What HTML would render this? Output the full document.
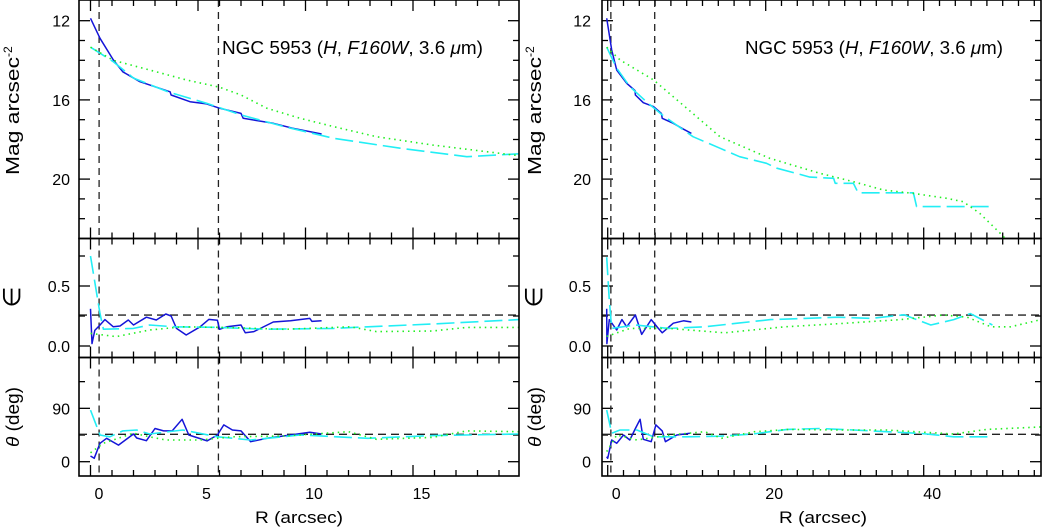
<!DOCTYPE html>
<html><head><meta charset="utf-8"><style>
html,body{margin:0;padding:0;background:#fff;}
svg{display:block;font-family:"Liberation Sans","DejaVu Sans",sans-serif;}
</style></head><body>
<svg id="c" width="1043" height="527" viewBox="0 0 1043 527" xmlns="http://www.w3.org/2000/svg"></svg>
<script>
// ---------- DATA: left panels (R up to ~20 arcsec) ----------
const L_magBlueR = [0,0.44,1.06,1.5,2.3,3.7,3.75,4.63,5.4,6.0,7.0,7.1,8.5,9.4,10.75];
const L_magBlue  = [11.88,12.89,13.98,14.58,15.08,15.59,15.75,16.09,16.2,16.42,16.68,16.93,17.18,17.43,17.72];
const L_magCyanR = [0,1.06,2.0,3.6,5.4,7.0,9.0,11.3,14.4,17.5,19.93];
const L_magCyan  = [13.34,14.07,14.9,15.59,16.17,16.76,17.35,17.94,18.44,18.87,18.72];
const L_magGreenR= [0,1.06,2.75,4.45,6.0,7.0,8.2,9.75,11.3,13.3,15.9,19.93];
const L_magGreen = [13.34,14.0,14.49,14.99,15.36,15.75,16.42,16.93,17.35,17.86,18.28,18.82];

const L_epsBlueR = [0,0.07,0.2,0.44,0.67,1.06,1.37,1.76,2.0,2.6,3.06,3.5,3.75,4.0,4.45,5.1,5.5,5.9,6.0,6.35,7.0,7.2,7.6,8.5,9.3,10.2,10.3,10.75];
const L_epsBlue  = [0.31,0.02,0.13,0.175,0.22,0.16,0.167,0.217,0.175,0.24,0.217,0.267,0.25,0.147,0.092,0.16,0.222,0.215,0.139,0.16,0.175,0.11,0.12,0.2,0.21,0.23,0.205,0.21];
const L_epsCyanR = [0,0.44,0.6,2.0,2.75,3.9,5.9,8.2,11.3,12.9,15.9,19.93];
const L_epsCyan  = [0.75,0.27,0.14,0.147,0.175,0.16,0.155,0.14,0.147,0.16,0.183,0.22];
const L_epsGreenR= [0,1.2,2.75,4.3,6.6,9.0,12.1,13.3,15.9,17.5,19.93];
const L_epsGreen = [0.105,0.078,0.133,0.16,0.153,0.139,0.16,0.12,0.125,0.155,0.155];

const L_paBlueR = [0,0.17,0.44,0.75,1.3,2.0,2.15,2.6,3.0,3.4,3.8,4.26,4.57,5.43,5.9,6.2,6.6,7.0,7.45,8.2,9.3,10.2,10.75];
const L_paBlue  = [9.6,5.7,31,39.5,28,46.7,40,35.4,56,52,52,71.5,45,35,45,62,53.5,52,33.7,39.5,45,49.5,46.7];
const L_paCyanR = [0,0.44,0.9,1.5,2.15,2.75,4.3,5.9,7.45,9.75,12.9,15.9,19.93];
const L_paCyan  = [87,45,42,52,53.5,46.7,53.5,42,36.6,45,39.5,44,46.7];
const L_paGreenR= [0,0.6,2.0,2.75,3.5,5.1,6.6,9.0,12.0,13.3,15.9,17.5,19.93];
const L_paGreen = [15,31,48,42,36.6,36.6,42,43.3,50.6,37.8,41,52,50.6];

// ---------- DATA: right panels (R up to ~55 arcsec) ----------
const R_magBlueR = [-0.13,0.5,1.14,2.4,3.46,3.5,4.5,5.8,6.8,6.9,8.3,9.6,10.6];
const R_magBlue  = [11.88,13.48,14.49,15.16,15.53,15.75,16.14,16.34,16.68,16.93,17.18,17.48,17.69];
const R_magCyanR = [-0.13,1.14,2.8,4.9,6.9,10.8,14.2,16.7,20.1,21.4,23.5,25.6,28.6,28.8,31.1,31.7,38.7,39.1,48.8];
const R_magCyan  = [13.34,14.4,15.33,16.09,16.76,17.86,18.44,18.87,19.2,19.45,19.67,19.9,19.96,20.21,20.21,20.69,20.69,21.39,21.39];
const R_magGreenR= [-0.13,1.56,5.8,10,14.2,20.5,26.9,31.1,34.9,38.7,42.9,45,47.1,49.9,51];
const R_magGreen = [13.34,13.98,14.99,16.42,17.86,18.95,19.71,20.13,20.55,20.72,20.97,21.14,21.73,22.82,23.3];

const R_epsBlueR = [-0.13,-0.1,0.2,1.14,1.8,2.4,3.5,4.3,5.5,6.3,6.9,8.3,9.6,10.6];
const R_epsBlue  = [0.31,0.02,0.22,0.133,0.22,0.16,0.258,0.097,0.22,0.155,0.11,0.19,0.21,0.2];
const R_epsCyanR = [-0.13,0.2,0.5,3.5,7.7,12.3,16.4,20.6,24.9,29.1,33.3,37.5,40.9,43.8,45.9,48.7];
const R_epsCyan  = [0.74,0.38,0.147,0.175,0.147,0.16,0.19,0.22,0.23,0.24,0.23,0.26,0.175,0.22,0.27,0.175];
const R_epsGreenR= [-0.13,2.8,7.7,14.8,22.4,28.6,37.1,42.5,45.5,48.5,51,55.5];
const R_epsGreen = [0.08,0.147,0.147,0.11,0.16,0.183,0.22,0.258,0.24,0.16,0.16,0.23];

const R_paBlueR = [-0.13,0,0.5,1.14,2,2.8,3.5,4.1,4.5,5.5,6.1,6.9,7.3,8.75,10.4];
const R_paBlue  = [8.4,5.7,36.6,31,45,36.6,56,71.5,37.8,33.7,62,52,33.7,45,48];
const R_paCyanR = [-0.13,0.5,1.56,3.7,5.8,10,14.2,18.4,22.7,26.9,31.1,35.3,39.6,43.8,48.7];
const R_paCyan  = [87,48,53.5,53.5,42,42,43,46.7,54.5,56,53.5,50.6,47.8,42,42];
const R_paGreenR= [-0.13,1.14,3.7,7.9,12.3,14.4,18.6,22.9,29.1,35.3,43.8,48,55.5];
const R_paGreen = [17,45,36.6,45,50.6,39.5,50.6,54.5,53.5,53.5,46.7,54.5,59];

const magTicks=[12,16,20], epsTicks=[0,0.5], paTicks=[0,90];
const L_xTicks=[0,5,10,15], R_xTicks=[0,20,40];
const vLines=[0.4,5.95], epsRef=0.258, paRef=46.2;

// ---------- DRAWING ----------
const svg=document.getElementById('c');
const NS='http://www.w3.org/2000/svg';
function el(tag,attrs,parent){const e=document.createElementNS(NS,tag);for(const k in attrs)e.setAttribute(k,attrs[k]);(parent||svg).appendChild(e);return e;}

const top0=0, y1=238.5, y2=357.5, bot=476;
function panelSet(side,x0,x1,xr0,pxPerUnit,minorStep,majorStep,xTicks,labX,tickLabRight,data){
  const g=el('g',{});
  
  
  const X=v=>xr0+pxPerUnit*v;
  const vmin=(x0-xr0)/pxPerUnit, vmax=(x1-xr0)/pxPerUnit;
  const panels=[
    {name:'magnitude',ya:top0,yb:y1,Y:m=>20.7+(m-12)*19.8,lo:11,hi:23.5,minor:1,major:4,ticks:magTicks,fmt:v=>String(v)},
    {name:'ellipticity',ya:y1,yb:y2,Y:e=>346-120*e,lo:-0.1,hi:0.9,minor:0.25,major:0.5,ticks:epsTicks,fmt:v=>v.toFixed(1)},
    {name:'position-angle',ya:y2,yb:bot,Y:t=>461.7-0.593*t,lo:-25,hi:176,minor:45,major:90,ticks:paTicks,fmt:v=>String(v)}
  ];
  panels.forEach((p,i)=>{
    const cid=side+'clip'+i;
    const cp=el('clipPath',{id:cid},g);
    el('rect',{x:x0,y:p.ya,width:x1-x0,height:p.yb-p.ya},cp);
    for(let v=Math.ceil(vmin/minorStep)*minorStep;v<=vmax;v+=minorStep){
      const isMaj=Math.abs(v/majorStep-Math.round(v/majorStep))<1e-6;
      const len=isMaj?11:6, x=X(v);
      el('line',{x1:x,x2:x,y1:p.yb,y2:p.yb-len,stroke:'#000','stroke-width':1.3},g);
      el('line',{x1:x,x2:x,y1:p.ya,y2:p.ya+len,stroke:'#000','stroke-width':1.3},g);
    }
    for(let v=Math.ceil(p.lo/p.minor)*p.minor;v<=p.hi;v+=p.minor){
      const y=p.Y(v); if(y<p.ya+1||y>p.yb-1) continue;
      const isMaj=Math.abs(v/p.major-Math.round(v/p.major))<1e-6;
      const len=isMaj?11:6;
      el('line',{x1:x0,x2:x0+len,y1:y,y2:y,stroke:'#000','stroke-width':1.3},g);
      el('line',{x1:x1,x2:x1-len,y1:y,y2:y,stroke:'#000','stroke-width':1.3},g);
    }
    p.ticks.forEach(v=>{
      const t=el('text',{x:tickLabRight,y:p.Y(v)+6,'text-anchor':'end','font-size':16,fill:'#000'},g);
      t.textContent=p.fmt(v);
      
      
    });
    const dg=el('g',{'clip-path':'url(#'+cid+')'},g);
    vLines.forEach(v=>{
      const l=el('line',{x1:X(v),x2:X(v),y1:p.ya,y2:p.yb,stroke:'#222','stroke-width':1.3,'stroke-dasharray':'7,5'},dg);
      
      
    });
    if(i>0){
      const yv=i===1?p.Y(epsRef):p.Y(paRef);
      const l=el('line',{x1:x0,x2:x1,y1:yv,y2:yv,stroke:'#222','stroke-width':1.3,'stroke-dasharray':'8,5'},dg);
      
      
    }
    const series=data[i];
    const styles=[
      {c:'#22ee22',d:'1.5,4',w:1.6,n:'green-dotted'},
      {c:'#22eef5',d:'18,6',w:1.6,n:'cyan-dashed'},
      {c:'#1414d8',d:'',w:1.5,n:'blue-solid'}];
    [2,1,0].forEach(k=>{
      const [rs,vs]=series[k];
      const pts=rs.map((r,j)=>X(r).toFixed(1)+','+p.Y(vs[j]).toFixed(1)).join(' ');
      const pl=el('polyline',{points:pts,fill:'none',stroke:styles[k].c,'stroke-width':styles[k].w,'stroke-dasharray':styles[k].d,'stroke-linejoin':'round'},dg);
      
      
    });
    const fr=el('rect',{x:x0,y:p.ya,width:x1-x0,height:p.yb-p.ya,fill:'none',stroke:'#000','stroke-width':1.6},g);
    
    
  });
  xTicks.forEach(v=>{
    const t=el('text',{x:X(v)+8.5,y:499,'text-anchor':'middle','font-size':16,fill:'#000'},g);
    t.textContent=String(v);
    
    
  });
  const xt=el('text',{x:labX-44,y:523,'font-size':17,fill:'#000',textLength:88,lengthAdjust:'spacingAndGlyphs'},g);
  xt.textContent='R (arcsec)';
  
  
}
panelSet('left',79,519,90.5,21.5,1,5,L_xTicks,299,70,[
  [[L_magGreenR,L_magGreen],[L_magCyanR,L_magCyan],[L_magBlueR,L_magBlue]],
  [[L_epsGreenR,L_epsGreen],[L_epsCyanR,L_epsCyan],[L_epsBlueR,L_epsBlue]],
  [[L_paGreenR,L_paGreen],[L_paCyanR,L_paCyan],[L_paBlueR,L_paBlue]]]);
panelSet('right',602,1041,607.7,7.9,2,20,R_xTicks,823,591,[
  [[R_magGreenR,R_magGreen],[R_magCyanR,R_magCyan],[R_magBlueR,R_magBlue]],
  [[R_epsGreenR,R_epsGreen],[R_epsCyanR,R_epsCyan],[R_epsBlueR,R_epsBlue]],
  [[R_paGreenR,R_paGreen],[R_paCyanR,R_paCyan],[R_paBlueR,R_paBlue]]]);

// ---------- static text ----------
[[0,222,261],[1,745,258]].forEach(([i,x,w])=>{
  const t=document.createElementNS(NS,'text');
  t.setAttribute('x',x);t.setAttribute('y',54);t.setAttribute('font-size',18);
  t.setAttribute('textLength',w);t.setAttribute('lengthAdjust','spacingAndGlyphs');
  
  
  t.innerHTML='NGC 5953 (<tspan font-style="italic">H</tspan>, <tspan font-style="italic">F160W</tspan>, 3.6 <tspan font-style="italic">μ</tspan>m)';
  svg.appendChild(t);
});
[[13,'left'],[535,'right']].forEach(([x,s])=>{
  const a=document.createElementNS(NS,'text');
  a.setAttribute('transform','translate('+(x+6)+',175) rotate(-90)');
  a.setAttribute('font-size',18);
  a.innerHTML='<tspan textLength="118" lengthAdjust="spacingAndGlyphs">Mag arcsec</tspan><tspan dy="-7" font-size="12">-2</tspan>';
  
  
  svg.appendChild(a);
  const b=document.createElementNS(NS,'text');
  b.setAttribute('transform','translate('+(x+7)+',297) rotate(-90)');
  b.setAttribute('text-anchor','middle');b.setAttribute('font-size',24);
  b.textContent='∈';
  
  
  svg.appendChild(b);
  const c=document.createElementNS(NS,'text');
  c.setAttribute('transform','translate('+(x+6)+',447) rotate(-90)');
  c.setAttribute('font-size',18);c.setAttribute('textLength',60);c.setAttribute('lengthAdjust','spacingAndGlyphs');
  c.innerHTML='<tspan font-style="italic">θ</tspan> (deg)';
  
  
  svg.appendChild(c);
});
</script>
</body></html>
